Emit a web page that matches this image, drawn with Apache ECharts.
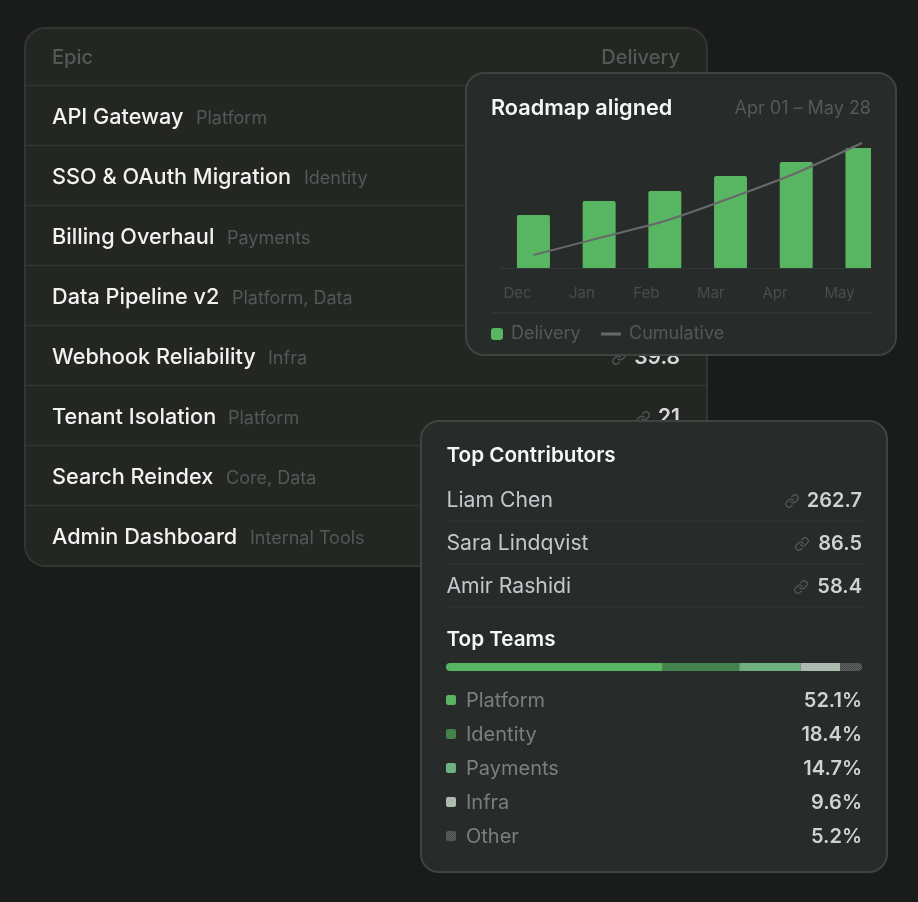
<!DOCTYPE html>
<html><head><meta charset="utf-8">
<style>html,body{margin:0;padding:0;background:#1a1c1b}#c{width:918px;height:902px}</style>
<script src="https://cdn.jsdelivr.net/npm/echarts@6/dist/echarts.min.js"></script>
</head><body><div id="c"></div>
<script>
const months = ['Dec','Jan','Feb','Mar','Apr','May'];
const delivery = [53,67,77,92,106,120];
const cumulative = [13,30,47,70,95,125];
const epics = ['API Gateway','SSO & OAuth Migration','Billing Overhaul','Data Pipeline v2','Webhook Reliability','Tenant Isolation','Search Reindex','Admin Dashboard'];
const epicTags = ['Platform','Identity','Payments','Platform, Data','Infra','Platform','Core, Data','Internal Tools'];
const epicTagX = [196,304,227,232,268,228,226,250];
const epicDelivery = [null,null,null,null,'39.8','21',null,null];
const contributors = ['Liam Chen','Sara Lindqvist','Amir Rashidi'];
const contributorValues = ['262.7','86.5','58.4'];
const contributorIconX = [792,802,801];
const teams = ['Platform','Identity','Payments','Infra','Other'];
const teamShare = [52.1,18.4,14.7,9.6,5.2];

const FONT = 'Inter, "Noto Sans", sans-serif';
const LINK_SVG = c => 'data:image/svg+xml;utf8,' + encodeURIComponent('<svg xmlns="http://www.w3.org/2000/svg" width="24" height="24" viewBox="0 0 24 24" fill="none" stroke="'+c+'" stroke-width="2" stroke-linecap="round" stroke-linejoin="round"><path d="M10 13a5 5 0 0 0 7.54.54l3-3a5 5 0 0 0-7.07-7.07l-1.72 1.71"/><path d="M14 11a5 5 0 0 0-7.54-.54l-3 3a5 5 0 0 0 7.07 7.07l1.71-1.71"/></svg>');

// fine dither patterns used by the two minor team segments
function dither(base, dot, step){
  const cv = document.createElement('canvas');
  cv.width = cv.height = step*2;
  const c = cv.getContext('2d');
  c.fillStyle = base; c.fillRect(0,0,step*2,step*2);
  c.fillStyle = dot;
  c.fillRect(0,0,1,1); c.fillRect(step,step,1,1);
  return {image:cv, repeat:'repeat'};
}
const teamColors = ['#58b562','#44824c','#6eb07f',dither('#b1b9b2','#8fbc98',2),dither('#5f6163','#47494a',1)];

function txt(x,y,text,size,weight,fill,z,align){
  return {type:'text',z:z,style:{x:x,y:y,text:text,font:weight+' '+size+'px '+FONT,fill:fill,textAlign:align||'left',textVerticalAlign:'middle'},silent:true};
}
function rect(x,y,w,h,r,fill,stroke,z){
  return {type:'rect',z:z,shape:{x:x,y:y,width:w,height:h,r:r},style:{fill:fill,stroke:stroke||null,lineWidth:stroke?2:0},silent:true};
}
function hline(x1,x2,y,color,z){
  return {type:'line',z:z,shape:{x1:x1,y1:y,x2:x2,y2:y},style:{stroke:color,lineWidth:1.5},silent:true};
}
function link(x,y,color,z){
  return {type:'image',z:z,style:{image:LINK_SVG(color),x:x-7.5,y:y-7.5,width:15,height:15},silent:true};
}

const CARD = '#272b29';
const g = [];
// main table card
g.push(rect(25,28,682,538,20,'#242622','#333632',-9));
g.push(txt(52,58,'Epic',20,500,'#56595a',-8));
g.push(txt(680,58,'Delivery',20,500,'#56595a',-8,'right'));
epics.forEach((name,i)=>{
  const y = 117+60*i;
  g.push(hline(26,706,85.5+60*i,'#333531',-8));
  g.push(txt(52,y,name,21.7,500,'#f1f2f2',-8));
  g.push(txt(epicTagX[i],y+1.5,epicTags[i],18,400,'#55585a',-8));
  if(epicDelivery[i]){
    const tw = epicDelivery[i].length>2?45:21;
    g.push(txt(680,y+1,epicDelivery[i],21,600,'#d5d7da',-8,'right'));
    g.push(link(680-tw-16,y+1,'#55585a',-8));
  }
});
// roadmap card
g.push(rect(466,73,430,282,18,CARD,'#3f4441',-6));
g.push(txt(491,108.5,'Roadmap aligned',21.7,600,'#f5f6f6',-5));
g.push(txt(871,109,'Apr 01 – May 28',18,400,'#55595a',-5,'right'));
g.push(hline(491,871,313,'#363a38',-5));
// the plot's right edge trims the last bar
g.push(rect(871,139,9,131,0,CARD,null,5));
// contributors card
g.push(rect(421,421,466,451,18,CARD,'#3f4441',-6));
g.push(txt(446.5,456,'Top Contributors',20.7,600,'#f5f6f6',-5));
contributors.forEach((name,i)=>{
  const y = 501+43*i;
  g.push(txt(446.5,y,name,21.2,400,'#c4c7cb',-5));
  g.push(txt(862,y,contributorValues[i],20,600,'#cfd1d5',-5,'right'));
  g.push(link(contributorIconX[i],y,'#55595a',-5));
  g.push(hline(447,862,y+20,'#303432',-5));
});
g.push(txt(446.5,640,'Top Teams',20.7,600,'#f5f6f6',-5));
teams.forEach((name,i)=>{
  const y = 701+34*i;
  g.push(rect(446,y-6,10,10,2,teamColors[i],null,-5));
  g.push(txt(466,y,name,20,400,'#7b7f82',-5));
  g.push(txt(862,y,teamShare[i].toFixed(1)+'%',20,600,'#cfd1d5',-5,'right'));
});

const option = {
  backgroundColor:'#1a1c1b',
  animation:false,
  textStyle:{fontFamily:FONT},
  legend:[
    {data:['Delivery'],left:486,top:320,itemWidth:12,itemHeight:12,icon:'roundRect',itemGap:0,selectedMode:false,
     textStyle:{color:'#54585a',fontSize:18,fontFamily:FONT,padding:[0,0,0,3]}},
    {data:['Cumulative'],left:596,top:320,itemWidth:20,itemHeight:3,icon:'rect',selectedMode:false,
     textStyle:{color:'#54585a',fontSize:18,fontFamily:FONT,padding:[0,0,0,3]}}
  ],
  grid:[
    {left:500.6,width:370.4,top:140,height:128},
    {left:485.3,width:386.4,top:280,height:1},
    {left:446,width:416,top:663,height:8}
  ],
  xAxis:[
    {gridIndex:0,type:'value',min:-0.5,max:5.138,axisLabel:{show:false},axisTick:{show:false},splitLine:{show:false},
     axisLine:{show:true,onZero:false,lineStyle:{color:'#333735',width:1}}},
    {gridIndex:1,type:'category',data:months,axisLine:{show:false},axisTick:{show:false},
     axisLabel:{color:'#494d4d',fontSize:15,fontFamily:FONT,margin:5,interval:0,align:'center'}},
    {gridIndex:2,type:'value',min:0,max:100,show:false}
  ],
  yAxis:[
    {gridIndex:0,type:'value',min:0,max:128,show:false},
    {gridIndex:1,type:'value',show:false},
    {gridIndex:2,type:'category',data:['Top Teams'],show:false}
  ],
  series:[
    {name:'Delivery',type:'bar',xAxisIndex:0,yAxisIndex:0,data:delivery.map((v,i)=>[i,v]),barWidth:33,
     itemStyle:{color:'#58b562',borderRadius:[2,2,1,1]}},
    {name:'Cumulative',type:'line',xAxisIndex:0,yAxisIndex:0,data:cumulative.map((v,i)=>[i,v]),smooth:0.2,showSymbol:false,clip:false,
     lineStyle:{color:'#67696b',width:2},itemStyle:{color:'#67696b'}}
  ].concat(teams.map((t,i)=>({
    name:t,type:'bar',stack:'teams',xAxisIndex:2,yAxisIndex:2,barWidth:8,data:[teamShare[i]],
    itemStyle:{color:teamColors[i],borderRadius:i===0?[4,0,0,4]:(i===teams.length-1?[0,4,4,0]:0)}
  }))),
  graphic:{elements:g}
};
const chart = echarts.init(document.getElementById('c'));
chart.setOption(option);
</script></body></html>
